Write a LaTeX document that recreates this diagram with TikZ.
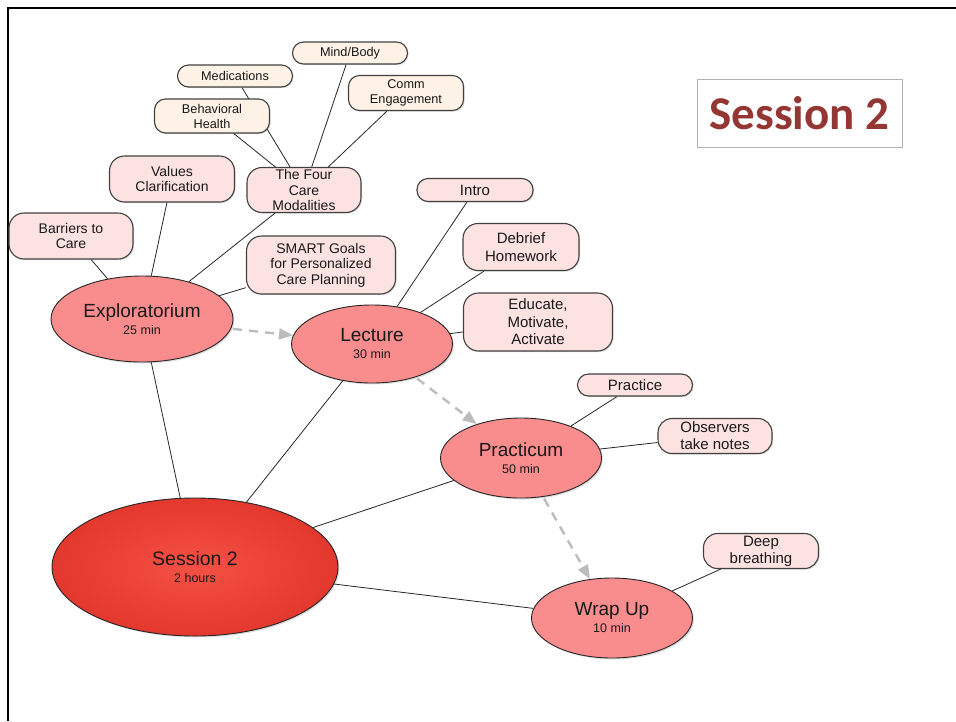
\documentclass[tikz,border=0pt]{standalone}
\usepackage{fontspec}
\setmainfont{Liberation Sans}
\newfontfamily\titlefont{Carlito}
\usetikzlibrary{arrows.meta,shapes.geometric,shadows,backgrounds}
\definecolor{stageclr}{RGB}{249,140,140}
\definecolor{sessin}{RGB}{246,80,68}
\definecolor{sessout}{RGB}{226,56,46}
\definecolor{topicclr}{RGB}{253,226,226}
\definecolor{itemclr}{RGB}{254,242,230}
\definecolor{titleclr}{RGB}{148,54,52}
\definecolor{flowclr}{RGB}{188,188,188}
\begin{document}
\begin{tikzpicture}[x=1pt,y=-1pt,
  stage/.style={ellipse,draw=black!85,line width=0.9pt,fill=stageclr,inner sep=0pt,
    align=center,text=black!90,font=\fontsize{12.5}{17}\selectfont,
    drop shadow={opacity=0.25,shadow xshift=1.5pt,shadow yshift=-1.5pt}},
  topic/.style={draw=black!75,line width=1.1pt,fill=topicclr,rounded corners=15pt,
    minimum width=115pt,minimum height=46pt,inner sep=1pt,align=center,text=black!90,
    font=\fontsize{14}{15.5}\selectfont,
    drop shadow={opacity=0.25,shadow xshift=1.2pt,shadow yshift=-1.2pt}},
  bigtopic/.style={topic,font=\fontsize{15}{17.5}\selectfont},
  item/.style={topic,fill=itemclr,rounded corners=11pt,minimum height=22pt,
    font=\fontsize{12.7}{15}\selectfont},
  link/.style={draw=black!85,line width=0.8pt},
  flow/.style={draw=flowclr,line width=2.4pt,dash pattern=on 9pt off 7pt,shorten <=2pt,
    -{Triangle[length=14pt,width=11pt]}}]
\useasboundingbox (0,0) rectangle (956,721);
\draw[line width=2.2pt] (8,721) -- (8,8) -- (956,8);
% title
\node[draw=black!30,line width=0.8pt,minimum width=205pt,minimum height=68pt,
  text=titleclr,font=\titlefont\bfseries\fontsize{47}{47}\selectfont] (title) at (799.5,113) {Session 2};
% stages
\node[stage,minimum width=286pt,minimum height=138pt,shade,inner color=sessin,outer color=sessout]
  (sess) at (195,567) {{\fontsize{19.5}{17}\selectfont Session 2}\\2 hours};
\node[stage,minimum width=182pt,minimum height=86pt] (expl) at (142,319) {{\fontsize{19}{17}\selectfont Exploratorium}\\25 min};
\node[stage,minimum width=161pt,minimum height=78pt] (lect) at (372,344) {{\fontsize{19}{17}\selectfont Lecture}\\30 min};
\node[stage,minimum width=161pt,minimum height=80pt] (prac) at (521,458) {{\fontsize{19}{17}\selectfont Practicum}\\50 min};
\node[stage,minimum width=161pt,minimum height=80pt] (wrap) at (612,618) {{\fontsize{19}{17}\selectfont Wrap Up}\\10 min};
% exploratorium topics
\node[topic,minimum width=124pt] (barr) at (71,236) {Barriers to\\Care};
\node[topic,minimum width=125pt] (vals) at (172,179) {Values\\Clarification};
\node[topic,minimum width=114pt,minimum height=45pt,inner sep=0pt] (four) at (304,190) {The Four\\Care\\Modalities};
\node[topic,minimum width=149pt,minimum height=58pt] (smart) at (321,265) {SMART Goals\\for Personalized\\Care Planning};
\node[item] (meds) at (235,76) {Medications};
\node[item,minimum height=34pt] (behav) at (212,116) {Behavioral\\Health};
\node[item] (mind) at (350,53) {Mind/Body};
\node[item,minimum height=35pt] (comm) at (406,93) {Comm\\Engagement};
% lecture topics
\node[bigtopic,minimum width=116pt,minimum height=23pt,rounded corners=11pt] (intro) at (475,190) {Intro};
\node[bigtopic,minimum width=116pt,minimum height=47pt] (debr) at (521,247) {Debrief\\Homework};
\node[bigtopic,minimum width=149pt,minimum height=58pt] (educ) at (538,322) {Educate,\\Motivate,\\Activate};
% practicum and wrap up topics
\node[bigtopic,minimum height=22pt,rounded corners=11pt] (pract) at (635,385) {Practice};
\node[bigtopic,minimum width=114pt,minimum height=35pt,rounded corners=14pt,font=\fontsize{15}{17}\selectfont] (obs) at (715,436) {Observers\\take notes};
\node[bigtopic,minimum height=35pt,rounded corners=14pt,font=\fontsize{15}{17}\selectfont] (deep) at (761,551) {Deep\\breathing};
% connectors behind the nodes
\begin{scope}[on background layer]
\foreach \a/\b in {sess/expl,sess/lect,sess/prac,sess/wrap,expl/barr,expl/vals,expl/four,expl/smart,
  four/behav,four/meds,four/mind,four/comm,lect/intro,lect/debr,lect/educ,prac/pract,prac/obs,wrap/deep}
 \draw[link] (\a) -- (\b);
\end{scope}
\draw[flow] (expl) -- (lect);
\draw[flow] (lect) -- (prac);
\draw[flow] (prac) -- (wrap);
\end{tikzpicture}
\end{document}
